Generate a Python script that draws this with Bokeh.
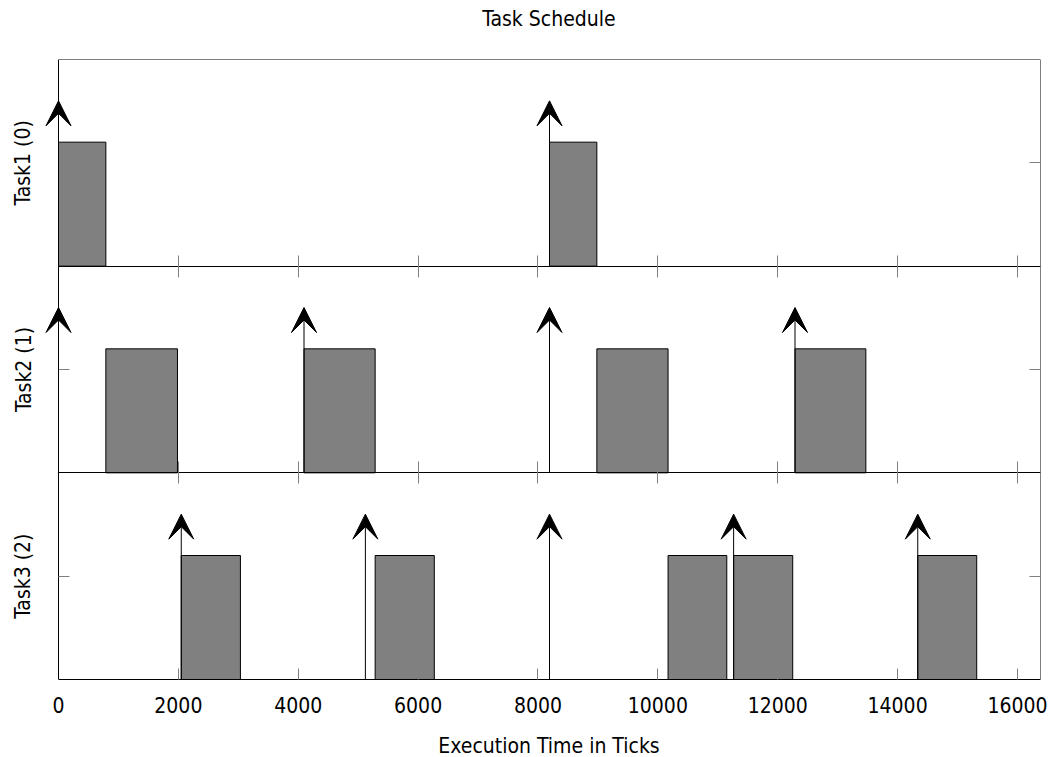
from bokeh.plotting import figure
from bokeh.models import LinearAxis, FixedTicker, Range1d, Arrow, VeeHead, ColumnDataSource, Div
from bokeh.layouts import column
from bokeh.embed import file_html
from bokeh.resources import INLINE

# ---- data ----
tasks = ["Task1 (0)", "Task2 (1)", "Task3 (2)"]
task1_starts = [0, 8192]
task1_ends = [790, 8982]
task2_starts = [790, 4096, 8982, 12288]
task2_ends = [1985, 5283, 10170, 13470]
task3_starts = [2048, 5283, 10170, 11264, 14336]
task3_ends = [3035, 6270, 11150, 12250, 15320]
task1_releases = [0, 8192]
task2_releases = [0, 4096, 8192, 12288]
task3_releases = [2048, 5120, 8192, 11264, 14336]
x_ticks = [0, 2000, 4000, 6000, 8000, 10000, 12000, 14000, 16000]
x_end = 16384
title_text = "Task Schedule"
x_label = "Execution Time in Ticks"

# ---- style / layout constants ----
FONT = "DejaVu Sans Condensed"
FS = "21px"
BAR_H = 0.6
ARROW_H = 0.8
TICK = 11
TICK_COLOR = "#808080"
PAD = -267  # blank room left of x=0 so the first arrow heads are not clipped

starts = [task1_starts, task2_starts, task3_starts]
ends = [task1_ends, task2_ends, task3_ends]
releases = [task1_releases, task2_releases, task3_releases]
n = len(tasks)
y_ticks = [n - 0.5 - i for i in range(n)]

bars = dict(left=[], right=[], bottom=[], top=[])
arr = dict(x_start=[], y_start=[], x_end=[], y_end=[])
for i in range(n):
    base = n - 1 - i
    for s, e in zip(starts[i], ends[i]):
        bars["left"].append(s)
        bars["right"].append(e)
        bars["bottom"].append(base)
        bars["top"].append(base + BAR_H)
    for r in releases[i]:
        arr["x_start"].append(r)
        arr["y_start"].append(base)
        arr["x_end"].append(r)
        arr["y_end"].append(base + ARROW_H)

p = figure(width=1049, height=697, x_range=Range1d(PAD, x_end), y_range=Range1d(0, n),
           output_backend="svg", toolbar_location=None, y_axis_location="left",
           min_border_left=42, min_border_right=9, min_border_top=20, min_border_bottom=57)
p.background_fill_color = "white"
p.border_fill_color = "white"
p.outline_line_color = None
p.xgrid.visible = False
p.ygrid.visible = False

xa = p.xaxis[0]
xa.ticker = FixedTicker(ticks=x_ticks)
xa.bounds = (0, x_end)
xa.major_tick_in = TICK
xa.major_tick_out = 0
xa.minor_tick_line_color = None
xa.major_tick_line_color = TICK_COLOR
xa.axis_line_color = "black"
xa.major_label_text_font = FONT
xa.major_label_text_font_size = FS
xa.major_label_text_color = "black"
xa.major_label_standoff = 17

# task names: labels of the frame's left axis (its line and ticks are hidden)
ya = p.yaxis[0]
ya.ticker = FixedTicker(ticks=y_ticks)
ya.major_label_overrides = {y_ticks[i]: tasks[i] for i in range(n)}
ya.major_label_orientation = "vertical"
ya.major_tick_in = 0
ya.major_tick_out = 0
ya.major_tick_line_color = None
ya.minor_tick_line_color = None
ya.axis_line_color = None
ya.major_label_text_font = FONT
ya.major_label_text_font_size = FS
ya.major_label_text_color = "black"
ya.major_label_standoff = 7

# border / separator axes drawn inside the frame
for loc in range(1, n + 1):
    ax = LinearAxis(fixed_location=loc, ticker=FixedTicker(ticks=x_ticks), bounds=(0, x_end),
                    major_tick_in=TICK, major_tick_out=(TICK if loc < n else 0),
                    major_tick_line_color=TICK_COLOR, axis_line_color="black",
                    major_label_text_color=None, minor_tick_line_color=None)
    p.add_layout(ax, "below")
for loc, side in ((0, "left"), (x_end, "right")):
    ax = LinearAxis(fixed_location=loc, ticker=FixedTicker(ticks=y_ticks),
                    major_tick_in=TICK, major_tick_out=0, major_tick_line_color=TICK_COLOR,
                    axis_line_color="black", major_label_text_color=None,
                    minor_tick_line_color=None)
    p.add_layout(ax, side)

p.quad(left="left", right="right", bottom="bottom", top="top", source=ColumnDataSource(bars),
       fill_color="#808080", line_color="black", line_width=1)

p.add_layout(Arrow(end=VeeHead(size=25, fill_color="black", line_color="black", line_width=1),
                   source=ColumnDataSource(arr), x_start="x_start", y_start="y_start",
                   x_end="x_end", y_end="y_end", line_color="black", line_width=1))

title_div = Div(text=title_text, width=982, height=39, margin=(0, 0, 0, 58),
                styles={"text-align": "center", "font-family": FONT, "font-size": FS,
                        "line-height": "39px", "color": "black"})
xlabel_div = Div(text=x_label, width=982, height=20, margin=(0, 0, 0, 58),
                 styles={"text-align": "center", "font-family": FONT, "font-size": FS,
                         "line-height": "20px", "color": "black"})

layout = column(title_div, p, xlabel_div, spacing=0)
open("out.html", "w").write(file_html(layout, INLINE))
